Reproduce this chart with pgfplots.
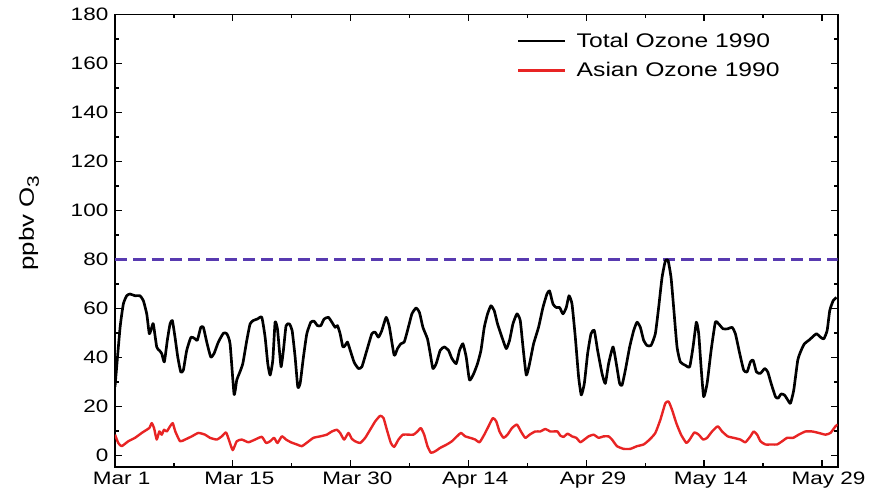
\documentclass[border=0pt]{standalone}
\usepackage{fontspec}
\setmainfont{Liberation Sans}[FakeStretch=1.25]
\usepackage{pgfplots}
\pgfplotsset{compat=1.18}

\definecolor{totalblack}{RGB}{0,0,0}
\definecolor{asianred}{RGB}{232,36,36}
\definecolor{limitblue}{RGB}{88,58,176}

% Days counted from Mar 1 (ticks every 15 days)
\begin{document}
\begin{tikzpicture}
\useasboundingbox (-86.25pt,-18pt) rectangle (572.25pt,350.25pt);
\begin{axis}[
  scale only axis,
  width=542pt, height=339.4pt,
  xmin=0, xmax=92, ymin=-4.7, ymax=180,
  xtick={0,15,30,45,60,75,90},
  xticklabels={Mar 1, Mar 15, Mar 30, Apr 14, Apr 29, May 14, May 29},
  minor x tick num=1,
  ytick={0,20,...,180},
  minor y tick num=1,
  tick align=inside,
  major tick length=5pt, minor tick length=3pt,
  every tick/.style={black, line width=1pt},
  axis line style={line width=1.4pt},
  /pgf/number format/assume math mode=true,
  tick label style={font=\fontsize{13.5}{16}\selectfont},
  xticklabel style={xshift=5pt},
  yticklabel style={xshift=-1.5pt},
  ylabel={ppbv O\raisebox{-0.45ex}{\fontsize{12.5}{13}\selectfont 3}},
  ylabel style={at={(rel axis cs:-0.119,0.539)}, anchor=center, font=\fontsize{15.5}{18}\selectfont},
  legend style={draw=none, fill=none, at={(rel axis cs:0.55,0.972)}, anchor=north west,
    font=\fontsize{14.8}{17}\selectfont, row sep=6pt},
  legend cell align=left,
  legend image code/.code={\draw[#1] (0cm,0cm) -- (1.23cm,0cm);},
]
% 80 ppbv reference level
\addplot[draw=limitblue, line width=1.6pt, dash pattern=on 9.2pt off 4.5pt, forget plot]
  coordinates {(0,80) (92,80)};

\addplot[totalblack, line width=2pt, line join=round, smooth, tension=0.3] coordinates {
(0.00,28.0) (0.64,52.0) (1.06,61.8) (1.49,65.2) (1.91,65.9) (2.55,65.2) (3.18,65.2)
(3.61,63.2) (4.04,57.8) (4.37,49.7) (4.68,52.3) (4.88,53.7) (5.31,44.3) (5.64,42.9)
(5.95,41.6) (6.28,38.2) (6.66,47.0) (7.01,53.7) (7.30,55.1) (7.64,48.3) (7.99,40.2)
(8.37,34.1) (8.70,34.8) (9.13,42.9) (9.68,48.3) (10.19,47.6) (10.48,47.0) (10.92,52.3)
(11.25,52.3) (11.68,46.3) (12.19,40.2) (12.61,41.6) (13.16,46.3) (13.80,49.9) (14.23,49.7)
(14.65,45.6) (15.16,25.0) (15.50,30.8) (15.83,33.5) (16.27,37.5) (16.78,47.0) (17.20,53.7)
(17.62,55.1) (18.13,55.7) (18.69,56.4) (19.11,48.3) (19.45,37.5) (19.75,32.8) (20.09,38.9)
(20.38,54.4) (20.68,51.7) (20.93,42.9) (21.15,36.2) (21.44,42.9) (21.78,53.0) (22.20,53.7)
(22.55,51.0) (22.93,40.2) (23.27,28.0) (23.57,29.4) (23.99,40.2) (24.42,49.7) (24.93,54.4)
(25.35,54.8) (25.77,53.0) (26.20,53.0) (26.62,55.7) (27.17,56.4) (27.61,54.4) (28.03,52.3)
(28.32,53.0) (28.66,49.7) (29.01,44.3) (29.30,44.9) (29.59,46.3) (29.94,43.0) (30.45,38.0)
(30.99,35.5) (31.43,36.2) (32.06,42.9) (32.70,49.7) (33.12,50.3) (33.54,48.3) (33.97,51.0)
(34.52,56.4) (34.94,52.3) (35.54,40.9) (35.96,43.6) (36.39,45.6) (36.82,46.3) (37.24,51.0)
(37.80,57.8) (38.34,60.2) (38.76,58.4) (39.20,52.3) (39.78,47.6) (40.13,41.6) (40.47,35.5)
(40.89,37.5) (41.40,42.9) (41.91,44.3) (42.46,42.9) (42.89,39.6) (43.44,37.5) (43.86,42.9)
(44.29,45.6) (44.71,40.2) (45.13,30.8) (45.64,33.2) (46.15,37.5) (46.59,42.9) (47.01,52.3)
(47.43,57.8) (47.86,61.1) (48.28,59.1) (48.70,53.7) (49.26,48.3) (49.81,43.6) (50.23,47.0)
(50.66,53.7) (51.17,57.8) (51.59,55.1) (51.94,44.3) (52.36,32.8) (52.78,37.5) (53.29,45.6)
(53.92,52.3) (54.48,60.4) (54.99,65.9) (55.32,67.2) (55.76,61.8) (56.18,60.4) (56.60,60.4)
(57.03,57.8) (57.45,60.4) (57.80,65.2) (58.18,61.8) (58.60,48.3) (59.02,32.1) (59.36,24.7)
(59.75,29.4) (60.17,41.6) (60.60,49.7) (61.02,51.0) (61.44,42.9) (62.00,33.5) (62.42,29.4)
(62.84,37.5) (63.40,44.3) (63.82,37.5) (64.24,29.4) (64.55,28.7) (64.97,34.8) (65.52,44.3)
(66.03,51.0) (66.46,54.4) (66.88,52.3) (67.30,47.0) (67.73,44.9) (68.24,44.9) (68.79,49.7)
(69.21,60.4) (69.64,72.6) (70.06,79.4) (70.41,79.6) (70.79,72.6) (71.12,60.4) (71.55,44.3)
(71.97,38.2) (72.61,36.8) (73.16,36.2) (73.59,44.3) (74.01,54.4) (74.31,49.7) (74.61,36.2)
(74.94,24.0) (75.38,29.4) (75.89,42.9) (76.43,54.4) (76.85,53.7) (77.41,51.7) (78.00,51.7)
(78.56,52.3) (78.98,49.7) (79.53,41.6) (80.04,34.8) (80.47,34.1) (80.89,38.2) (81.24,38.9)
(81.66,34.1) (82.17,33.5) (82.71,35.5) (83.10,34.1) (83.53,29.4) (84.08,24.0) (84.42,23.4)
(84.80,25.1) (85.22,24.7) (85.64,22.7) (85.99,21.3) (86.41,26.7) (86.92,38.9) (87.35,42.9)
(87.77,45.6) (88.32,47.0) (88.88,48.6) (89.30,49.7) (89.81,48.3) (90.23,47.6) (90.66,51.0)
(90.99,59.1) (91.43,63.2) (91.85,64.5)
};
\addlegendentry{\hspace{6pt}Total Ozone 1990}

\addplot[asianred, line width=1.8pt, line join=round, smooth, tension=0.3] coordinates {
(0.00,8.5) (0.42,5.1) (0.85,3.8) (1.69,5.8) (2.55,7.2) (3.40,9.2) (4.04,10.5) (4.37,11.2)
(4.68,13.2) (4.97,11.2) (5.31,6.5) (5.64,9.8) (5.95,8.5) (6.24,10.5) (6.59,9.8) (7.01,11.9)
(7.35,13.2) (7.68,9.8) (8.28,5.8) (8.92,6.5) (9.77,7.8) (10.61,9.2) (11.46,8.5) (12.10,7.2)
(12.96,6.5) (13.59,7.8) (14.14,9.4) (14.56,5.8) (14.99,2.2) (15.50,5.8) (16.14,6.5)
(16.98,5.4) (17.83,6.5) (18.69,7.6) (19.24,5.1) (19.75,5.8) (20.25,7.2) (20.68,5.1)
(21.24,7.8) (21.78,6.5) (22.38,5.4) (23.15,4.5) (23.78,3.8) (24.50,5.4) (25.26,7.2)
(26.11,7.8) (26.97,8.5) (27.61,9.8) (28.24,10.5) (28.66,9.2) (29.17,6.5) (29.72,9.2)
(30.15,6.8) (30.57,5.8) (31.21,5.1) (31.85,7.2) (32.48,10.5) (33.12,13.9) (33.76,16.2)
(34.18,15.3) (34.61,10.5) (35.12,5.1) (35.54,3.5) (36.09,6.5) (36.65,8.5) (37.36,8.5)
(38.00,8.5) (38.51,9.8) (38.94,11.2) (39.36,8.5) (39.78,3.8) (40.22,1.1) (40.76,1.7)
(41.40,3.1) (42.25,4.5) (42.89,5.8) (43.53,7.8) (44.04,9.2) (44.59,7.8) (45.22,7.2)
(45.86,6.5) (46.41,5.4) (47.01,8.5) (47.55,11.9) (48.11,15.3) (48.54,13.9) (48.95,9.8)
(49.46,7.2) (49.97,8.5) (50.54,11.2) (51.17,12.6) (51.68,9.8) (52.23,7.2) (52.78,8.5)
(53.50,9.8) (54.14,9.8) (54.78,10.8) (55.41,9.8) (55.83,9.8) (56.34,9.8) (56.69,8.1)
(57.11,7.6) (57.62,8.9) (58.18,7.8) (58.73,7.2) (59.24,5.4) (59.75,6.5) (60.29,7.8)
(60.93,8.5) (61.57,7.2) (62.20,7.8) (62.84,7.8) (63.27,6.5) (63.91,3.8) (64.75,2.7)
(65.61,2.7) (66.46,3.8) (67.30,4.5) (68.06,6.5) (68.79,9.2) (69.43,14.6) (70.06,21.3)
(70.48,22.0) (70.92,18.6) (71.46,13.2) (72.06,8.5) (72.74,5.1) (73.16,6.5) (73.76,9.4)
(74.31,8.5) (74.87,6.5) (75.38,7.2) (76.01,9.8) (76.73,11.9) (77.29,9.8) (78.00,7.8)
(78.76,7.2) (79.62,6.5) (80.25,5.4) (80.89,7.8) (81.31,9.8) (81.75,8.5) (82.17,5.8)
(82.80,4.5) (83.66,4.5) (84.29,4.5) (84.93,5.8) (85.57,7.2) (86.33,7.2) (87.04,8.5)
(87.90,9.8) (88.75,9.8) (89.59,9.2) (90.45,8.5) (91.08,9.2) (91.72,11.9) (92.00,12.6)
};
\addlegendentry{\hspace{6pt}Asian Ozone 1990}
\end{axis}
\end{tikzpicture}
\end{document}
